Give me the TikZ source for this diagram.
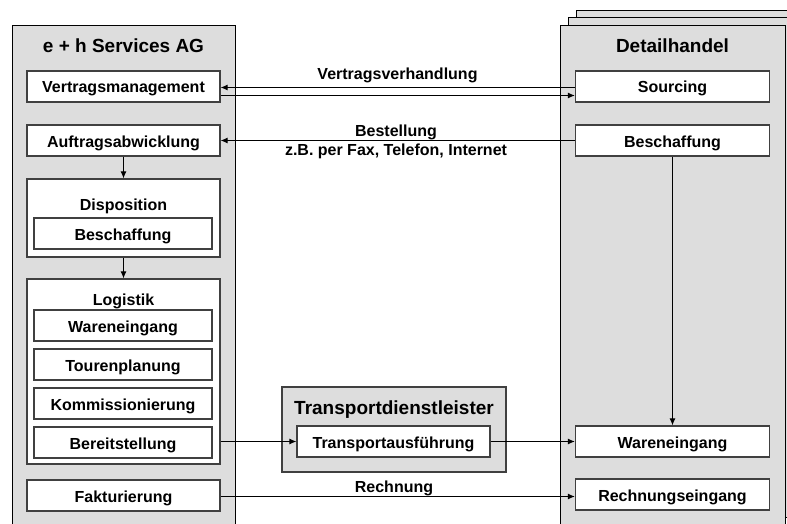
\documentclass[tikz,border=0pt]{standalone}
\usepackage{fontspec}
\setmainfont{Liberation Sans}
\usetikzlibrary{arrows.meta,positioning}
\definecolor{panelgray}{RGB}{221,221,221}
\definecolor{linegray}{RGB}{64,64,64}
\tikzset{
  panel/.style={draw=black, fill=panelgray, line width=1pt},
  box/.style={draw=linegray, fill=white, line width=1.2pt, minimum width=193pt, minimum height=31pt,
    inner sep=0pt, text height=16pt, text depth=3pt, font=\fontsize{16}{19}\selectfont\bfseries},
  inbox/.style={box, minimum width=178pt},
  grp/.style={draw=linegray, fill=white, line width=1.2pt, inner sep=0pt},
  head/.style={anchor=base, inner sep=0pt, font=\fontsize{19}{22}\selectfont\bfseries},
  sub/.style={anchor=base, inner sep=0pt, font=\fontsize{16}{19}\selectfont\bfseries},
  flow/.style={-{Latex[length=7pt,width=6pt]}, line width=1.1pt},
}
\begin{document}
\begin{tikzpicture}[x=1pt, y=-1pt, node distance=6.8pt]
\useasboundingbox (0,0) rectangle (787,524);
\clip (0,0) rectangle (787,524);
\fill[white] (0,0) rectangle (787,524);
% panels
\draw[panel] (576.5,10.5) rectangle (800,509.5);
\draw[panel] (568.5,17.5) rectangle (800,517.5);
\draw[panel] (560.5,25.5) rectangle (785.5,540);
\draw[panel] (12.5,25.5) rectangle (235.5,540);
\node[head] (ehtitle) at (123.5,53) {e + h Services AG};
\node[head] (dhtitle) at (672.5,53) {Detailhandel};
% e + h Services AG
\node[box] (vm) at (123.5,86.5) {Vertragsmanagement};
\node[box] (aa) at (123.5,140.5) {Auftragsabwicklung};
\node[grp, minimum width=193pt, minimum height=78pt] (dispo) at (123.5,218) {};
\node[sub] (dispotitle) at (123.5,210) {Disposition};
\node[inbox] (dbesch) at (123,233.5) {Beschaffung};
\node[grp, minimum width=193pt, minimum height=185pt] (logi) at (123.5,371.5) {};
\node[sub] (logititle) at (123.5,305) {Logistik};
\node[inbox] (lwe) at (123,325.5) {Wareneingang};
\node[inbox, below=of lwe] (tour) {Tourenplanung};
\node[inbox, below=of tour] (komm) {Kommissionierung};
\node[inbox, below=of komm] (bereit) {Bereitstellung};
\node[box] (fak) at (123.5,495.5) {Fakturierung};
% Detailhandel
\node[box, minimum width=194pt] (src) at (672.5,86.5) {Sourcing};
\node[box, minimum width=194pt] (rbesch) at (672.5,140.5) {Beschaffung};
\node[box, minimum width=194pt] (rwe) at (672.5,441.5) {Wareneingang};
\node[box, minimum width=194pt] (rein) at (672.5,494.5) {Rechnungseingang};
% Transportdienstleister
\node[grp, fill=panelgray, minimum width=224pt, minimum height=85pt] (tdl) at (394,429.5) {};
\node[head] (tdltitle) at (394,414) {Transportdienstleister};
\node[box] (ta) at (393.5,441.5) {Transportausführung};
% flows
\draw[flow] (src.west |- 0,87.5) -- (vm.east |- 0,87.5);
\draw[flow] (vm.east |- 0,95.5) -- (src.west |- 0,95.5);
\node[sub] (vvlabel) at (397.5,80) {Vertragsverhandlung};
\draw[flow] (rbesch) -- (aa);
\node[sub] (bestlabel) at (396,136) {Bestellung};
\node[sub] (mediumlabel) at (396,155) {z.B. per Fax, Telefon, Internet};
\draw[flow] (aa) -- (dispo);
\draw[flow] (dispo) -- (logi);
\draw[flow] (rbesch) -- (rwe);
\draw[flow] (logi.east |- ta) -- (ta);
\draw[flow] (ta) -- (rwe);
\draw[flow] (fak.east |- 0,496.5) -- (rein.west |- 0,496.5);
\node[sub] (rechlabel) at (394,492) {Rechnung};
\end{tikzpicture}
\end{document}
